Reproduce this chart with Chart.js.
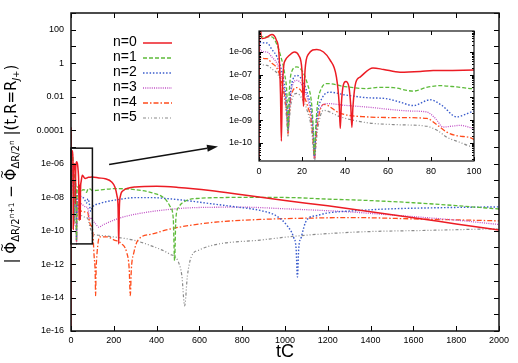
<!DOCTYPE html>
<html><head><meta charset="utf-8">
<script src="https://cdn.jsdelivr.net/npm/chart.js@4"></script>
<style>
html,body{margin:0;padding:0;background:#fff;}
#wrap{position:relative;width:518px;height:363px;}
#main{position:absolute;left:0;top:0;}
#inset{position:absolute;left:200px;top:0;}
</style></head><body>
<div id="wrap"><canvas id="main" width="518" height="363"></canvas><canvas id="inset" width="300" height="185"></canvas></div>
<script>
// ---------- data (t, |difference|) ----------
const names = ['n=0','n=1','n=2','n=3','n=4','n=5'];

const t0 = [0,0.1,0.6,1.4,3,6,8,9.3,10,10.4,10.8,11.5,12.2,14,16.5,18.5,20,20.7,21.4,23,26.9,30,33,36,37.3,37.8,38.3,39.2,40.4,41.8,42.7,43.2,43.7,45,47,53,58,65.6,75,81,90,100,130,160,190,205,215,220,223,226,231,245,270,300,400,500,650,800,1000,1200,1400,1600,1800,2000];
const v0 = [1e-17,1.5e-4,1.5e-5,3.9e-6,4.2e-6,5.9e-6,3.5e-6,8e-7,1.5e-8,1.2e-10,1.5e-8,2.5e-7,4.3e-7,7e-7,1.0e-6,7e-7,1.5e-7,4.1e-9,1.5e-7,8e-7,1.3e-6,1.0e-6,4.5e-7,8e-8,5e-9,4.3e-10,5e-9,3.5e-8,5.1e-8,3e-8,4e-9,4.8e-10,4e-9,4.5e-8,7.9e-8,2.0e-7,1.7e-7,1.3e-7,1.4e-7,1.55e-7,1.55e-7,1.6e-7,1.4e-7,1.25e-7,8e-8,4e-8,1.2e-8,2.5e-9,1.6e-11,2.5e-9,1.2e-8,2.5e-8,3.5e-8,4e-8,4.4e-8,3.8e-8,2.5e-8,1.4e-8,6.3e-9,3.0e-9,1.35e-9,5.9e-10,2.5e-10,1.07e-10];

const t1 = [0,0.5,3,6,8,10,12,13,13.5,14,15,17.6,20,22.5,24.5,25.2,25.8,26.4,27.2,29,31.6,40,50,56,62.5,71.8,78,84.2,92,100,150,200,300,380,438,465,478,484,490,503,540,600,687,800,1000,1200,1400,1600,1800,2000];
const v1 = [6e-5,4.9e-6,4.6e-6,4.6e-6,2.5e-6,7e-7,1e-7,1.2e-8,3.5e-10,1.2e-8,1.2e-7,2.2e-7,1.5e-7,4e-8,5e-9,5e-10,3e-11,5e-10,5e-9,2.5e-8,4.1e-8,3e-8,2.45e-8,2.8e-8,2.7e-8,1.9e-8,2.8e-8,3.3e-8,2.9e-8,2.45e-8,2.8e-8,3.2e-8,2.8e-8,1.8e-8,8.1e-9,2.5e-9,5e-10,1.6e-12,5e-10,2.5e-9,6.3e-9,8.5e-9,9.3e-9,9.6e-9,9.5e-9,7.6e-9,6.2e-9,4.6e-9,3.1e-9,1.95e-9];

const t2 = [0,0.3,3.7,6,8.4,10.5,12.2,13,13.5,14,15,17.6,20,22.5,24.5,25.2,25.8,26.4,27.2,29.5,33,40,50,59,65,71.8,79.6,85,92,96,100,130,170,220,297,380,453,550,650,770,883,960,1008,1040,1052,1058,1064,1076,1101,1150,1195,1350,1500,1700,1880,2000];
const v2 = [4e-5,2.75e-6,2.5e-6,1.3e-6,6e-7,1.5e-7,2e-8,3e-9,4e-10,3e-9,3e-8,9.3e-8,6e-8,1.5e-8,2e-9,3e-10,2.5e-11,3e-10,2e-9,1e-8,1.7e-8,1.3e-8,9.8e-9,8.9e-9,6.5e-9,4.4e-9,7.9e-9,4.5e-9,1.4e-9,1.8e-9,2.5e-9,4e-9,5.5e-9,7.1e-9,9.3e-9,9.3e-9,8.1e-9,6e-9,4.1e-9,2.6e-9,1.6e-9,7.5e-10,2.1e-10,4e-11,8e-12,1.7e-13,8e-12,4e-11,4.2e-10,8e-10,1.1e-9,1.6e-9,2e-9,2.3e-9,2.5e-9,2.6e-9];

const t3 = [0,0.6,3.7,6,8.4,10.5,12.2,13,13.5,14,15,17.6,20,22.5,24.5,25.2,25.8,26.4,27.2,29,31.6,40,50,65.6,72,78,82,85.7,90,93.5,100,115,130,150,220,297,453,600,800,1000,1304,1500,1800,2000];
const v3 = [2e-5,1.2e-6,1.0e-6,6e-7,3.1e-7,8e-8,1.2e-8,2e-9,3e-10,2e-9,2e-8,5.6e-8,3.5e-8,9e-9,1.2e-9,2e-10,2.2e-11,2e-10,1.2e-9,4e-9,5.4e-9,4.5e-9,3.8e-9,2.7e-9,2.5e-9,2.3e-9,1.2e-9,5e-10,5.5e-10,5.9e-10,4.3e-10,2.5e-10,1.6e-10,2.2e-10,5.2e-10,9.3e-10,1.8e-9,2.4e-9,2.5e-9,2.0e-9,1.3e-9,8.5e-10,4.2e-10,2.3e-10];

const t4 = [0,0.3,3.7,6,8.4,10.5,12.2,13,13.5,14,15,17.6,20,22.5,24.5,25.2,25.8,26.4,27.2,30,37.8,50,65,78,83,87.3,93,100,108,113,115,117,122,134,170,200,235,260,272,277,282,294,313,380,453,550,687,900,1100,1304,1600,2000];
const v4 = [1e-5,6e-7,5.1e-7,3.2e-7,1.9e-7,5e-8,8e-9,1.5e-9,2.5e-10,1.5e-9,1.2e-8,2.7e-8,1.7e-8,4.5e-9,7e-10,1.2e-10,2e-11,1.2e-10,7e-10,5e-9,2e-9,1.4e-9,1.3e-9,1.2e-9,6e-10,3e-10,2e-10,1.4e-10,3e-12,3e-13,1.3e-14,3e-13,5e-12,4.2e-11,4.2e-11,2.8e-11,1.7e-11,5e-12,5e-13,1.3e-14,5e-13,5e-12,2.7e-11,6.3e-11,1.15e-10,2e-10,3.3e-10,4.7e-10,5.5e-10,6e-10,5e-10,3.8e-10];

const t5 = [0,0.6,3.7,6,9.1,11,12.3,13,13.5,14,15,17.6,20,22.5,24.5,25.2,25.8,26.4,27.2,30,37.8,50,65,78,83,87.3,93,100,136,198,291,385,460,500,518,531,544,562,600,687,883,1058,1350,1700,2000];
const v5 = [5e-6,3.3e-7,2.6e-7,1.8e-7,9.3e-8,2.5e-8,4e-9,8e-10,2e-10,8e-10,6e-9,1.5e-8,9e-9,2.5e-9,3.5e-10,6e-11,1.5e-11,6e-11,3.5e-10,2.7e-9,1.4e-9,7.8e-10,6.3e-10,5.4e-10,3.5e-10,1.8e-10,1.1e-10,6.6e-11,5.2e-11,4.2e-11,2.7e-11,1.1e-11,4e-12,1.5e-12,2e-13,3.2e-15,2e-13,2.7e-12,7e-12,1.55e-11,2.7e-11,4.8e-11,8.3e-11,1.05e-10,1.3e-10];

// tick values / labels
const mainXTicks = [0,200,400,600,800,1000,1200,1400,1600,1800,2000];
const mainXTickLabels = ['0','200','400','600','800','1000','1200','1400','1600','1800','2000'];
const mainYTickVals = [1e2,1,1e-2,1e-4,1e-6,1e-8,1e-10,1e-12,1e-14,1e-16];
const mainYTickLabels = ['100','1','0.01','0.0001','1e-06','1e-08','1e-10','1e-12','1e-14','1e-16'];
const mainYMarks = [1e3,1e2,1e1,1,1e-1,1e-2,1e-3,1e-4,1e-5,1e-6,1e-7,1e-8,1e-9,1e-10,1e-11,1e-12,1e-13,1e-14,1e-15,1e-16];
const insetXTicks = [0,20,40,60,80,100];
const insetXTickLabels = ['0','20','40','60','80','100'];
const insetYTickVals = [1e-6,1e-7,1e-8,1e-9,1e-10];
const insetYTickLabels = ['1e-06','1e-07','1e-08','1e-09','1e-10'];
const insetXRange = [0,100];
const insetYRange = [1.6e-11, 8.4e-6];
const arrowFrom = [178, 8.9e-7];
const arrowTo = [687, 1.07e-5];

// ---------- styles ----------
const T = [t0,t1,t2,t3,t4,t5], V = [v0,v1,v2,v3,v4,v5];
const styles = [
  {c:'#ec1c24', d:[], w:1.5},
  {c:'#5dbb3a', d:[4,2], w:1.3},
  {c:'#3a5ccc', d:[1.5,1.8], w:1.4},
  {c:'#c252c6', d:[1,1.2], w:1.3},
  {c:'#ff4c1c', d:[5,2,1.5,2], w:1.3},
  {c:'#8a8a8a', d:[3,2,1,2,1,2], w:1.2}
];
Chart.defaults.font.family = '"Liberation Sans", Arial, sans-serif';
Chart.defaults.color = '#000';

function pts(ts, vs){ return ts.map((t,i)=>({x:t, y:vs[i]})); }
function makeSets(){
  return names.map((n,i)=>({label:n, data:pts(T[i],V[i]), borderColor:styles[i].c, borderDash:styles[i].d,
    borderWidth:styles[i].w, pointRadius:0, fill:false, cubicInterpolationMode:'monotone'}));
}

const framePlugin = {
  id:'frame',
  afterDatasetsDraw(chart, args, o){
    const {ctx, chartArea:a, scales:{x,y}} = chart;
    ctx.save();
    ctx.strokeStyle = '#000'; ctx.lineWidth = 1; ctx.setLineDash([]);
    ctx.beginPath();
    for (const v of o.xMajor){
      const px = Math.round(x.getPixelForValue(v)) + 0.5;
      ctx.moveTo(px, a.bottom); ctx.lineTo(px, a.bottom - o.len);
      ctx.moveTo(px, a.top); ctx.lineTo(px, a.top + o.len);
    }
    for (const v of o.yMajor){
      const py = Math.round(y.getPixelForValue(v)) + 0.5;
      ctx.moveTo(a.left, py); ctx.lineTo(a.left + o.len, py);
      ctx.moveTo(a.right, py); ctx.lineTo(a.right - o.len, py);
    }
    for (const v of (o.yMinor||[])){
      const py = Math.round(y.getPixelForValue(v)) + 0.5;
      ctx.moveTo(a.left, py); ctx.lineTo(a.left + o.minorLen, py);
      ctx.moveTo(a.right, py); ctx.lineTo(a.right - o.minorLen, py);
    }
    ctx.stroke();
    ctx.lineWidth = o.border; ctx.strokeStyle = '#111';
    ctx.strokeRect(a.left, a.top, a.right - a.left, a.bottom - a.top);
    ctx.restore();
  }
};

const yTitle = [
  {t:'| ', s:15},
  {t:'\u03A6', s:15, tilde:true},
  {t:'\u0394R/2', s:10, dy:3},
  {t:'n+1', s:7.5, dy:-2},
  {t:' \u2212 ', s:15},
  {t:'\u03A6', s:15, tilde:true},
  {t:'\u0394R/2', s:10, dy:3},
  {t:'n', s:7.5, dy:-2},
  {t:' |(t,R=R', s:15},
  {t:'J+', s:9, dy:3, it:true},
  {t:')', s:15}
];

const extrasPlugin = {
  id:'extras',
  afterDraw(chart){
    const {ctx, scales:{x,y}} = chart;
    ctx.save();
    const rx0 = x.getPixelForValue(insetXRange[0]), rx1 = x.getPixelForValue(insetXRange[1]);
    const ry0 = y.getPixelForValue(insetYRange[1]), ry1 = y.getPixelForValue(insetYRange[0]);
    ctx.strokeStyle = '#111'; ctx.lineWidth = 1.5; ctx.setLineDash([]);
    ctx.strokeRect(rx0, ry0, rx1 - rx0, ry1 - ry0);
    const ax0 = x.getPixelForValue(arrowFrom[0]), ay0 = y.getPixelForValue(arrowFrom[1]);
    const ax1 = x.getPixelForValue(arrowTo[0]), ay1 = y.getPixelForValue(arrowTo[1]);
    const ang = Math.atan2(ay1 - ay0, ax1 - ax0), L = 11, W = 3.5;
    const bx = ax1 - L*Math.cos(ang), by = ay1 - L*Math.sin(ang);
    ctx.beginPath(); ctx.moveTo(ax0, ay0); ctx.lineTo(bx, by); ctx.stroke();
    ctx.fillStyle = '#111';
    ctx.beginPath(); ctx.moveTo(ax1, ay1);
    ctx.lineTo(bx + W*Math.sin(ang), by - W*Math.cos(ang));
    ctx.lineTo(bx - W*Math.sin(ang), by + W*Math.cos(ang));
    ctx.closePath(); ctx.fill();
    ctx.font = '14px "Liberation Sans", Arial, sans-serif';
    ctx.textBaseline = 'middle'; ctx.textAlign = 'left'; ctx.fillStyle = '#000';
    names.forEach((n,i)=>{
      const yy = 42.5 + i*15;
      ctx.fillText(n, 113, yy);
      ctx.strokeStyle = styles[i].c; ctx.lineWidth = styles[i].w; ctx.setLineDash(styles[i].d);
      ctx.beginPath(); ctx.moveTo(143, yy + 0.5); ctx.lineTo(172, yy + 0.5); ctx.stroke();
    });
    ctx.setLineDash([]);
    ctx.fillStyle = '#000';
    ctx.font = '18px "Liberation Sans", Arial, sans-serif';
    ctx.textAlign = 'center'; ctx.textBaseline = 'middle';
    ctx.fillText('tC', 285, 352);
    ctx.translate(16, 164); ctx.rotate(-Math.PI/2);
    ctx.textAlign = 'left'; ctx.textBaseline = 'alphabetic';
    const fontOf = p => (p.it ? 'italic ' : '') + p.s + 'px "DejaVu Sans", "Liberation Sans", sans-serif';
    let total = 0;
    yTitle.forEach(p => { ctx.font = fontOf(p); p.w = ctx.measureText(p.t).width; total += p.w; });
    let cx = -total/2;
    yTitle.forEach(p => {
      ctx.font = fontOf(p); ctx.fillText(p.t, cx, p.dy || 0);
      if (p.tilde) {
        ctx.font = '11px "DejaVu Sans", sans-serif';
        ctx.textAlign = 'center';
        ctx.fillText('~', cx + p.w/2, -10.5);
        ctx.textAlign = 'left';
      }
      cx += p.w;
    });
    ctx.restore();
  }
};

new Chart(document.getElementById('main'), {
  type:'line',
  data:{datasets: makeSets()},
  options:{
    responsive:false, animation:false, devicePixelRatio:1, events:[],
    layout:{padding:{top:13, right:19, left:0, bottom:0}},
    plugins:{legend:{display:false}, tooltip:{enabled:false},
      frame:{xMajor:mainXTicks, yMajor:mainYMarks, len:5, border:1.5}},
    scales:{
      x:{type:'linear', min:0, max:2000,
         afterBuildTicks(s){ s.ticks = mainXTicks.map(v=>({value:v})); },
         ticks:{callback:(v,i)=>mainXTickLabels[i], font:{size:9}, padding:4, maxRotation:0, autoSkip:false},
         grid:{display:false, drawTicks:false}, border:{display:false},
         afterFit(s){ s.height = 32; }},
      y:{type:'logarithmic', min:1e-16, max:1e3,
         afterBuildTicks(s){ s.ticks = mainYTickVals.map(v=>({value:v})); },
         ticks:{callback:(v,i)=>mainYTickLabels[i], font:{size:9}, padding:7, autoSkip:false},
         grid:{display:false, drawTicks:false}, border:{display:false},
         afterFit(s){ s.width = 71; }}
    }
  },
  plugins:[framePlugin, extrasPlugin]
});

const insetMinor = [];
for (let e = -11; e <= -6; e++) for (let m = 2; m <= 9; m++) {
  const v = m * Math.pow(10, e);
  if (v > insetYRange[0] && v < insetYRange[1]) insetMinor.push(v);
}

new Chart(document.getElementById('inset'), {
  type:'line',
  data:{datasets: makeSets()},
  options:{
    responsive:false, animation:false, devicePixelRatio:1, events:[],
    layout:{padding:{top:31, right:26, left:0, bottom:0}},
    plugins:{legend:{display:false}, tooltip:{enabled:false},
      frame:{xMajor:insetXTicks, yMajor:insetYTickVals, yMinor:insetMinor, len:4, minorLen:2, border:1.2}},
    scales:{
      x:{type:'linear', min:insetXRange[0], max:insetXRange[1],
         afterBuildTicks(s){ s.ticks = insetXTicks.map(v=>({value:v})); },
         ticks:{callback:(v,i)=>insetXTickLabels[i], font:{size:9}, padding:5, maxRotation:0, autoSkip:false},
         grid:{display:false, drawTicks:false}, border:{display:false},
         afterFit(s){ s.height = 24; }},
      y:{type:'logarithmic', min:insetYRange[0], max:insetYRange[1],
         afterBuildTicks(s){ s.ticks = insetYTickVals.map(v=>({value:v})); },
         ticks:{callback:(v,i)=>insetYTickLabels[i], font:{size:9}, padding:7, autoSkip:false},
         grid:{display:false, drawTicks:false}, border:{display:false},
         afterFit(s){ s.width = 59; }}
    }
  },
  plugins:[framePlugin]
});
</script></body></html>
